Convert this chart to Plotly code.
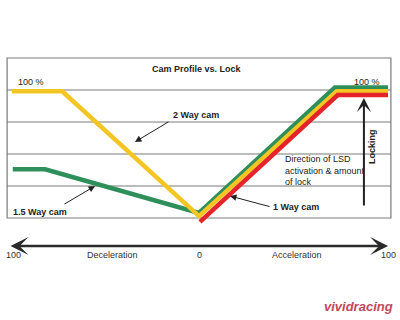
import plotly.graph_objects as go

# ---- data (x: -100 = full deceleration, +100 = full acceleration; y: % lock) ----
series_names = ["1.5 Way cam", "2 Way cam", "1 Way cam"]
green_x = [-98, -81, 0, 71.5, 99.5]
green_y = [38, 38, 4, 102, 102]
yellow_x = [-98.5, -72, 0, 72.5, 99.5]
yellow_y = [99, 99, 1.5, 99, 99]
red_x = [0.5, 73, 99.5]
red_y = [-3, 96, 96]
grid_levels = [25, 50, 75, 100]
axis_tick_labels = ["100", "Deceleration", "0", "Acceleration", "100"]
axis_tick_pos = [-97.9, -45.3, 0, 51.6, 99.5]

colors = {"green": "#2f8f5a", "yellow": "#f3c623", "red": "#e5232a"}
FONT = "Liberation Sans, Arial, sans-serif"
TXT = "#222222"

fig = go.Figure()
for xs, ys, c, nm in [(green_x, green_y, colors["green"], series_names[0]),
                      (yellow_x, yellow_y, colors["yellow"], series_names[1]),
                      (red_x, red_y, colors["red"], series_names[2])]:
    fig.add_trace(go.Scatter(x=xs, y=ys, mode="lines", name=nm,
                             line=dict(color=c, width=4.5), hoverinfo="skip"))

shapes = [dict(type="rect", xref="x", yref="y", x0=-101, x1=101, y0=0, y1=125,
               line=dict(color="#7a7a7a", width=1.2), layer="below")]
for g in grid_levels:
    shapes.append(dict(type="line", xref="x", yref="y", x0=-101, x1=101, y0=g, y1=g,
                       line=dict(color="#7a7a7a", width=1.2), layer="below"))

ann = []
def txt(x, y, s, size=9, bold=False, xanchor="center", angle=0, color=TXT, italic=False, align="center"):
    if bold:
        s = "<b>" + s + "</b>"
    if italic:
        s = "<i>" + s + "</i>"
    ann.append(dict(x=x, y=y, xref="x", yref="y", text=s, showarrow=False,
                    xanchor=xanchor, yanchor="middle", textangle=angle, align=align,
                    font=dict(family=FONT, size=size, color=color)))

def arrow(x, y, ax, ay, head=2, size=1.3, width=1.0, color="#222222", side="end"):
    ann.append(dict(x=x, y=y, ax=ax, ay=ay, xref="x", yref="y", axref="x", ayref="y",
                    text="", showarrow=True, arrowhead=head, arrowsize=size,
                    arrowwidth=width, arrowcolor=color, arrowside=side,
                    startarrowhead=head, startarrowsize=size, standoff=0, startstandoff=0))

txt(-1.0, 116.4, "Cam Profile vs. Lock", bold=True)
txt(-88.4, 106.3, "100 %")
txt(88.4, 106.3, "100 %")
txt(-14.7, 80.5, "2 Way cam", bold=True, xanchor="left")
txt(-98.9, 4.7, "1.5 Way cam", bold=True, xanchor="left")
txt(37.9, 8.6, "1 Way cam", bold=True, xanchor="left")
txt(44.2, 37.1, "Direction of LSD<br>activation &amp; amount<br>of lock", xanchor="left", align="left")
txt(91.1, 55.5, "Locking", bold=True, angle=-90)
for p, s in zip(axis_tick_pos, axis_tick_labels):
    txt(p, -28.9, s, color="#333333")
txt(83.7, -68.8, "vividracing", size=13, bold=True, italic=True, color="#c2475a")

arrow(-33.7, 59.4, -15.3, 75.8)
arrow(-54.7, 25.0, -71.6, 10.2)
arrow(16.3, 17.2, 37.9, 8.6)
arrow(86.8, 93.8, 86.8, 8.6, head=3, size=1.2, width=2.0)
arrow(99.5, -21.9, -100, -21.9, head=3, size=1.2, width=2.5, color="#2a2a2a", side="end+start")

fig.update_layout(
    width=400, height=320, autosize=False,
    margin=dict(l=0, r=0, t=0, b=0),
    paper_bgcolor="white", plot_bgcolor="white",
    showlegend=False,
    xaxis=dict(range=[-104.74, 105.79], visible=False, fixedrange=True),
    yaxis=dict(range=[-79.69, 170.31], visible=False, fixedrange=True),
    shapes=shapes, annotations=ann,
)
fig.write_html("out.html")
